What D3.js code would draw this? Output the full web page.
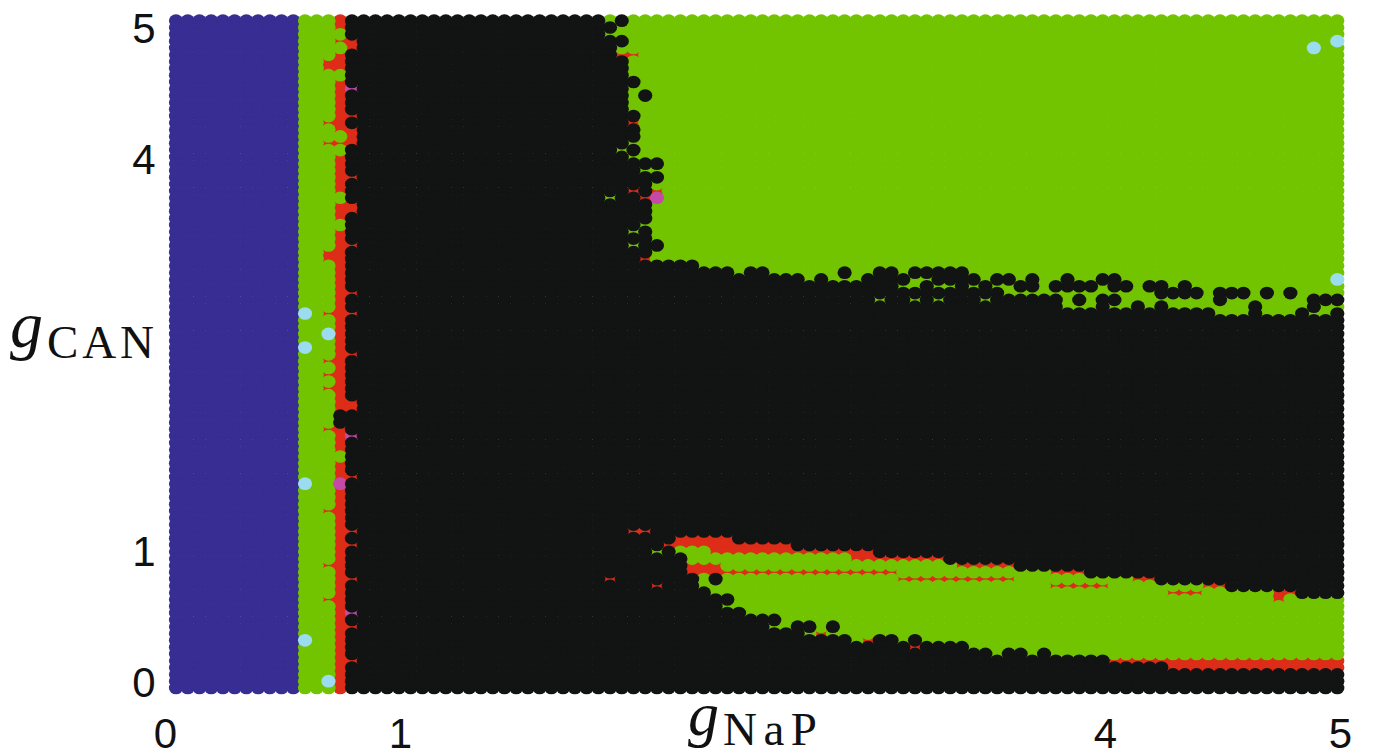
<!DOCTYPE html>
<html><head><meta charset="utf-8">
<style>html,body{margin:0;padding:0;background:#fff}svg{display:block}</style>
<script src="https://cdn.jsdelivr.net/npm/d3@7"></script></head>
<body><svg id="c" width="1373" height="756"></svg>
<script>
const columnCount = 100, rowCount = 99;
const xTickLabels = [0, 1, 4, 5];
const yTickLabels = [0, 1, 4, 5];
// last black column of the upper-left block, rows 0..35
const upperEnd = [36,37,36,38,37,37,38,38,38,39,38,38,38,38,39,38,39,39,38,39,38,41,39,41,40,40,39,40,40,40,39,40,40,41,40,39];
// columns 42..99: first and last row of the middle black band, first row of the bottom black block
const bandTop = [36,36,36,37,37,37,38,37,37,38,38,38,39,38,39,39,39,38,37,37,38,37,37,37,37,37,38,39,38,41,41,41,41,41,43,43,43,41,43,43,42,43,42,43,43,43,43,44,44,44,42,44,44,44,43,44,44,43];
const bandBottom = [76,75,75,75,75,75,76,76,76,76,76,77,77,77,77,77,77,77,78,78,78,78,78,78,79,79,79,79,79,79,80,80,80,80,80,80,81,81,81,81,81,81,82,82,82,82,82,82,83,83,83,83,83,83,84,84,84,84];
const lowerTop = [78,79,82,84,85,85,87,88,88,88,90,89,89,91,91,91,92,92,91,91,92,91,92,92,92,92,93,93,94,93,93,94,93,94,94,94,94,94,95,95,95,95,95,96,96,96,96,96,96,96,96,96,96,96,96,96,96,96];
// isolated cells [column,row]
const blackCells = [[38,0],[40,11],[14,58],[14,59],[57,37],[71,38],[72,39],[73,38],[73,39],[75,39],[76,38],[76,39],[77,39],[78,39],[79,38],[79,39],[80,38],[80,39],[81,39],[83,39],[84,39],[84,40],[85,40],[86,39],[86,40],[87,40],[89,40],[89,41],[90,40],[91,40],[93,40],[95,40],[97,41],[97,42],[98,41],[99,41],[77,41],[80,41],[46,82],[56,89]];
const greenCells = [[38,19],[37,26],[39,31],[39,33],[47,86],[51,89],[54,90],[41,78],[60,41],[63,41],[65,41],[69,41],[63,38],[64,38],[63,39],[62,39],[65,39],[66,39],[68,39],[70,39],[79,39]];
const greenCol14Rows = [2,4,8,17,19,26,30,64];
const redCol13Rows = [6,7,15,18,34,35,43,50,52,54,60,72,80,85];
const redCol15Rows = [3,4,14,16,17,18,23,27,28,33,40,43,49,56,57,67,75,77,82,89,94];
const magentaCells = [[15,10],[15,61],[15,87],[14,68],[41,26]];
const cyanCells = [[11,43],[11,48],[13,46],[11,68],[11,91],[13,97],[97,4],[99,3],[99,38]];
const redCells = [[38,5],[39,5],[39,15],[39,25],[41,25],[40,26],[40,35],[37,82],[41,83],[39,75],[40,75],[55,90],[59,91],[63,92]];
// [firstColumn,lastColumn,firstRow,lastRow]
const redRuns = [[42,42,77,77],[43,45,76,77],[46,47,76,78],[48,52,77,78],[53,57,78,78],[58,59,78,79],[60,65,79,79],[67,71,80,80],[75,77,81,81],[82,83,82,82],[88,89,83,83],[94,94,84,85],[95,95,84,84],[44,46,80,81],[47,61,81,81],[62,71,82,82],[75,79,83,83],[85,87,84,84],[80,84,94,94],[85,99,94,95]];
const colours = {indigo:"#382d92",red:"#dd2c18",magenta:"#c44aa8",green:"#73c400",cyan:"#9bdcee",black:"#121414"};
const drawOrder = ["indigo","red","green","magenta","cyan","black"];

const grid = d3.range(columnCount).map(c => d3.range(rowCount).map(() => c <= 10 ? "indigo" : c === 14 ? "red" : "green"));
const setCell = k => ([c, r]) => { grid[c][r] = k; };
upperEnd.forEach((end, r) => { for (let c = 15; c <= end; c++) grid[c][r] = "black"; });
for (let r = 36; r < rowCount; r++) for (let c = 15; c <= 41; c++) grid[c][r] = "black";
for (let c = 42; c < columnCount; c++) {
  const i = c - 42;
  for (let r = bandTop[i]; r <= bandBottom[i]; r++) grid[c][r] = "black";
  for (let r = lowerTop[i]; r < rowCount; r++) grid[c][r] = "black";
}
blackCells.forEach(setCell("black"));
redRuns.forEach(([a, b, p, q]) => { for (let c = a; c <= b; c++) for (let r = p; r <= q; r++) grid[c][r] = "red"; });
redCells.forEach(setCell("red"));
greenCells.forEach(setCell("green"));
greenCol14Rows.forEach(r => { grid[14][r] = "green"; });
redCol13Rows.forEach(r => { grid[13][r] = "red"; });
redCol15Rows.forEach(r => { grid[15][r] = "red"; });
magentaCells.forEach(setCell("magenta"));
cyanCells.forEach(setCell("cyan"));

const cells = [];
grid.forEach((col, c) => col.forEach((k, r) => cells.push({c, r, k})));
cells.sort((a, b) => drawOrder.indexOf(a.k) - drawOrder.indexOf(b.k));

const x = d3.scaleLinear().domain([0, columnCount - 1]).range([176, 1337.3]);
const y = d3.scaleLinear().domain([0, rowCount - 1]).range([20.7, 688]);
const xLabel = d3.scaleLinear().domain([0, 5]).range([165, 1340]);
const yLabel = d3.scaleLinear().domain([0, 5]).range([682, 28]);

const svg = d3.select("#c");
svg.append("g").attr("style","filter:blur(0.6px)").selectAll("ellipse").data(cells).join("ellipse")
  .attr("cx", d => x(d.c)).attr("cy", d => y(d.r)).attr("rx", 7.1).attr("ry", 6.35)
  .attr("fill", d => colours[d.k]);

const ff = "'Liberation Sans',Arial,sans-serif";
const ax = svg.append("g").attr("transform", "translate(0,733)")
  .call(d3.axisBottom(xLabel).tickValues(xTickLabels).tickSize(0).tickPadding(0).tickFormat(d3.format("d")));
ax.select(".domain").remove();
ax.selectAll("text").attr("font-family", ff).attr("font-size", 42).attr("fill", "#111").attr("y", 0).attr("dy", "0.35em");
const ay = svg.append("g").attr("transform", "translate(144,0)")
  .call(d3.axisLeft(yLabel).tickValues(yTickLabels).tickSize(0).tickPadding(0).tickFormat(d3.format("d")));
ay.select(".domain").remove();
ay.selectAll("text").attr("font-family", ff).attr("font-size", 42).attr("fill", "#111").attr("x", 0).attr("text-anchor", "middle").attr("dy", "0.35em");

const serif = "'Liberation Serif',serif";
function label(gx, gy, sx, sy, sub, len, gSize) {
  svg.append("text").attr("x", gx).attr("y", gy).attr("font-family", serif).attr("font-style", "italic").attr("font-size", gSize).attr("fill", "#111").text("g");
  svg.append("text").attr("x", sx).attr("y", sy).attr("font-family", serif).attr("font-size", 47).attr("fill", "#111")
    .attr("textLength", len).attr("lengthAdjust", "spacing").text(sub);
}
label(10, 347, 47, 358, "CAN", 107, 66);
label(688, 735, 723, 745, "NaP", 94, 62);
</script></body></html>
